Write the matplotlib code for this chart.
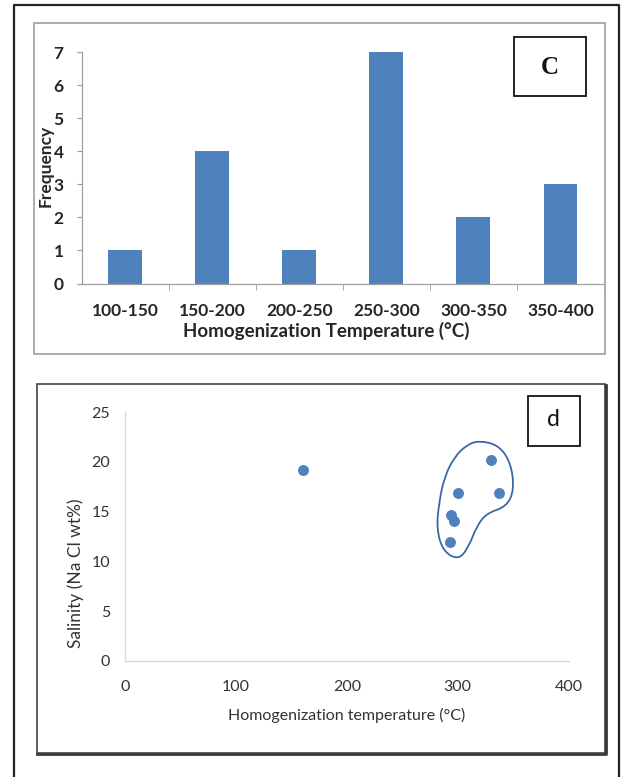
import matplotlib
matplotlib.use("Agg")
import matplotlib.pyplot as plt
from matplotlib.lines import Line2D
from matplotlib.patches import Rectangle, PathPatch
from matplotlib.path import Path

plt.rcParams["font.family"] = ["Lato", "DejaVu Sans"]

# --- panel c: histogram of homogenization temperatures ---
temp_bins = ["100-150", "150-200", "200-250", "250-300", "300-350", "350-400"]
frequency = [1, 4, 1, 7, 2, 3]

# --- panel d: salinity vs homogenization temperature ---
th_temp = [160, 330, 300, 337, 294, 297, 293]
salinity = [19.2, 20.2, 16.9, 16.9, 14.7, 14.1, 12.0]

# hand-drawn outline around the cluster (temperature, salinity)
outline_temp = [319, 337, 348, 351, 344, 326, 317, 310, 301, 287, 281, 283, 288, 297, 308]
outline_sal = [22.15, 21.7, 19.9, 17.2, 15.5, 14.85, 13.5, 11.5, 10.15, 11.0, 13.2, 15.85, 18.5, 20.5, 21.7]

W, H = 627, 777
BLUE = "#4F81BD"


def fx(x):
    return x / W


def fy(y):
    return 1 - y / H


def frame(fig, x0, y0, x1, y1, **kw):
    fig.patches.append(Rectangle((fx(x0), fy(y1)), fx(x1) - fx(x0), fy(y0) - fy(y1),
                                 transform=fig.transFigure, fill=False, **kw))


def main():
    fig = plt.figure(figsize=(W / 100, H / 100), dpi=100)

    # outer page frame (open at the bottom)
    fig.add_artist(Line2D([fx(13.5), fx(13.5), fx(619), fx(619)],
                          [fy(790), fy(4.7), fy(4.7), fy(790)],
                          transform=fig.transFigure, color="#222222", lw=1.6))

    # ---- top panel ----
    frame(fig, 34.3, 23.3, 605, 354, edgecolor="#a6a6a6", lw=1.3)
    ax1 = fig.add_axes([fx(81.7), fy(283.5), fx(604) - fx(81.7), fy(52.3) - fy(283.5)])
    x = range(len(temp_bins))
    ax1.bar(x, frequency, width=0.39, color=BLUE)
    ax1.set_xlim(-0.5, len(temp_bins) - 0.5)
    ax1.set_ylim(0, 7)
    ax1.set_yticks(range(0, 8))
    ax1.set_xticks(list(x))
    ax1.set_xticklabels(temp_bins, fontsize=12.5, fontweight="bold", color="#262626")
    ax1.set_xticks([i - 0.5 for i in range(1, len(temp_bins) + 1)], minor=True)
    ax1.tick_params(axis="x", which="major", length=0, pad=14)
    ax1.tick_params(axis="x", which="minor", length=4, color="#999999", direction="out")
    ax1.tick_params(axis="y", length=3.5, color="#999999", pad=9.5, labelsize=12.5, labelcolor="#262626")
    for t in ax1.get_yticklabels():
        t.set_fontweight("bold")
    for s in ["top", "right"]:
        ax1.spines[s].set_visible(False)
    for s in ["left", "bottom"]:
        ax1.spines[s].set_color("#a0a0a0")
        ax1.spines[s].set_linewidth(0.9)
    fig.text(fx(46), fy(166), "Frequency", rotation=90, ha="center", va="center",
             fontsize=12.5, fontweight="bold", color="#262626")
    fig.text(fx(326), fy(331), "Homogenization Temperature (°C)", ha="center", va="center",
             fontsize=13.5, fontweight="bold", color="#262626")

    frame(fig, 514.3, 37.3, 586, 95.7, edgecolor="#111111", lw=1.3)
    fig.text(fx(550), fy(67), "C", ha="center", va="center", fontsize=18,
             fontweight="bold", family="Liberation Serif", color="#111111")

    # ---- bottom panel ----
    frame(fig, 37.3, 384.3, 605, 753, edgecolor="#333333", lw=1.1)
    fig.add_artist(Line2D([fx(37.3), fx(605.5), fx(605.5)], [fy(753.5), fy(753.5), fy(384.8)],
                          transform=fig.transFigure, color="#3a3a3a", lw=2.0))
    ax2 = fig.add_axes([fx(125.3), fy(661), fx(568.5) - fx(125.3), fy(412.2) - fy(661)])
    ax2.scatter(th_temp, salinity, s=62, color=BLUE, zorder=3, linewidths=0)

    pts = list(zip(outline_temp, outline_sal))
    n = len(pts)
    mids = [((pts[i][0] + pts[(i + 1) % n][0]) / 2, (pts[i][1] + pts[(i + 1) % n][1]) / 2)
            for i in range(n)]
    verts = [mids[-1]]
    codes = [Path.MOVETO]
    for i in range(n):
        verts += [pts[i], mids[i]]
        codes += [Path.CURVE3, Path.CURVE3]
    ax2.add_patch(PathPatch(Path(verts, codes), fill=False, edgecolor="#3B67A5",
                            lw=1.3, clip_on=False))

    ax2.set_xlim(0, 400)
    ax2.set_ylim(0, 25)
    ax2.set_xticks([0, 100, 200, 300, 400])
    ax2.set_yticks([0, 5, 10, 15, 20, 25])
    ax2.tick_params(axis="x", length=0, pad=14, labelsize=11.5, labelcolor="#333333")
    ax2.tick_params(axis="y", length=0, pad=11, labelsize=11.5, labelcolor="#333333")
    for s in ["top", "right"]:
        ax2.spines[s].set_visible(False)
    for s in ["left", "bottom"]:
        ax2.spines[s].set_color("#d9d9d9")
        ax2.spines[s].set_linewidth(1.0)
    fig.text(fx(347), fy(715), "Homogenization temperature (°C)", ha="center", va="center",
             fontsize=11.5, color="#333333")
    fig.text(fx(76), fy(573), "Salinity (Na Cl wt%)", rotation=90, ha="center", va="center",
             fontsize=12.5, color="#333333")

    frame(fig, 527.7, 395.7, 579.7, 446, edgecolor="#111111", lw=1.3)
    fig.text(fx(553.7), fy(420), "d", ha="center", va="center", fontsize=16.5, color="#111111")

    fig.savefig("out.png", dpi=100)
    plt.close(fig)


if __name__ == "__main__":
    main()
